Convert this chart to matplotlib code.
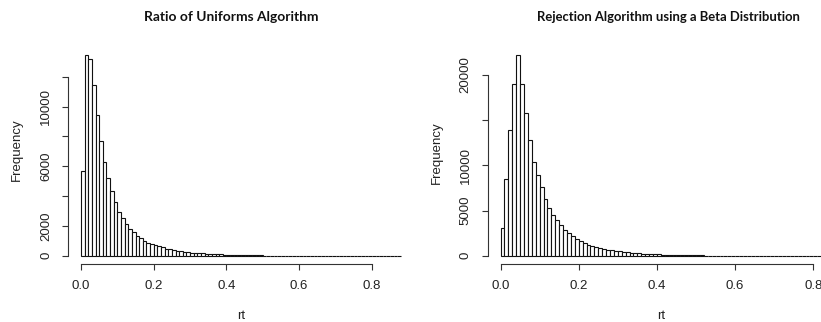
import matplotlib
matplotlib.use('Agg')
import matplotlib.pyplot as plt
import numpy as np

# histogram counts, bin width 0.01 starting at 0
ru_counts = [5680, 13440, 13180, 11450, 9410, 7720, 6310, 5190, 4320, 3580,
             2910, 2550, 2150, 1790, 1570, 1330, 1170, 1010, 870, 780,
             710, 630, 560, 450, 430, 380, 340, 290, 270, 240,
             210, 190, 170, 150, 140, 120, 110, 95, 85, 75,
             65, 55, 45, 40, 35, 30, 25, 22, 18, 15,
             12, 10, 0, 6, 5, 4, 3, 3] + [0] * 30
beta_counts = [3030, 8470, 13910, 19060, 22180, 19060, 15770, 12860, 10390, 8910,
               7620, 6250, 5240, 4520, 3930, 3360, 2860, 2490, 2140, 1860,
               1620, 1400, 1220, 1030, 960, 810, 740, 660, 600, 540,
               480, 420, 370, 330, 290, 260, 230, 200, 180, 160,
               140, 120, 100, 85, 70, 60, 50, 42, 36, 30,
               25, 21, 18, 15, 12, 10, 8, 6, 5, 4,
               3] + [0] * 21
bin_width = 0.01

x_ticks = [0.0, 0.2, 0.4, 0.6, 0.8]
ru_yticks = [0, 2000, 4000, 6000, 8000, 10000, 12000]
ru_ylabels = ['0', '2000', '', '6000', '', '10000', '']
beta_yticks = [0, 5000, 10000, 15000, 20000]
beta_ylabels = ['0', '5000', '10000', '', '20000']

titles = ['Ratio of Uniforms Algorithm',
          'Rejection Algorithm using a Beta Distribution']

W, H = 821, 322
plt.rcParams['font.family'] = ['Liberation Sans', 'DejaVu Sans']
fig = plt.figure(figsize=(W / 100, H / 100), dpi=100)


def px_axes(x0, x1, y_top, y_bot):
    return fig.add_axes([x0 / W, 1 - y_bot / H, (x1 - x0) / W, (y_bot - y_top) / H])


def r_hist(ax, counts, yticks, ylabels):
    counts = np.array(counts)
    edges = np.arange(len(counts)) * bin_width
    ax.bar(edges, counts, width=bin_width, align='edge', facecolor='white',
           edgecolor='#111111', linewidth=0.8)
    xmax = len(counts) * bin_width
    ymax = counts.max()
    ax.set_xlim(-0.04 * xmax, xmax * 1.04)
    ax.set_ylim(-0.04 * ymax, ymax * 1.04)
    for s in ['top', 'right']:
        ax.spines[s].set_visible(False)
    ax.spines['bottom'].set_bounds(x_ticks[0], x_ticks[-1])
    ax.spines['left'].set_bounds(yticks[0], yticks[-1])
    for s in ['bottom', 'left']:
        ax.spines[s].set_color('#333333')
        ax.spines[s].set_linewidth(0.8)
    ax.set_xticks(x_ticks)
    ax.set_xticklabels(['%.1f' % v for v in x_ticks])
    ax.set_yticks(yticks)
    ax.set_yticklabels(ylabels, rotation=90, va='center')
    ax.tick_params(direction='out', length=4.5, width=0.8, color='#333333',
                   labelsize=9.5, labelcolor='#222222')
    ax.tick_params(axis='x', pad=7)
    ax.tick_params(axis='y', pad=7)
    ax.patch.set_alpha(0)


ax1 = px_axes(68.2, 413.8, 47.4, 263.7)
r_hist(ax1, ru_counts, ru_yticks, ru_ylabels)
ax2 = px_axes(487.7, 834.0, 47.3, 263.7)
r_hist(ax2, beta_counts, beta_yticks, beta_ylabels)

for cx, t, fs in zip([231, 668], titles, [9.9, 9.4]):
    fig.text(cx / W, 1 - 17 / H, t, ha='center', va='center',
             family=['Lato', 'DejaVu Sans'], fontweight='bold', fontsize=fs,
             color='#111111')

for cx, cy in [(17, 150), (437, 153)]:
    fig.text(cx / W, 1 - cy / H, 'Frequency', rotation=90, ha='center',
             va='center', fontsize=9.5, color='#222222')

for cx in [241, 661]:
    fig.text(cx / W, 1 - 316 / H, 'rt', ha='center', va='center',
             fontsize=9.5, color='#222222')

fig.savefig('out.png', dpi=100)
